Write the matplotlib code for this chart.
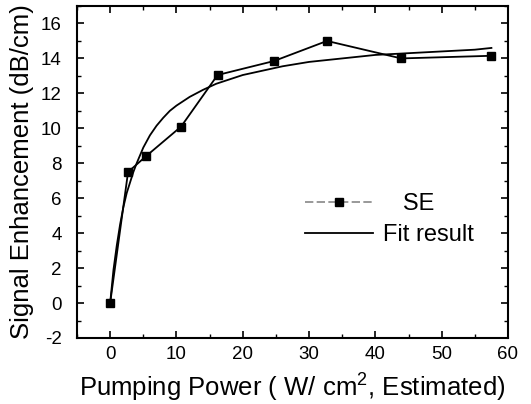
import matplotlib
matplotlib.use("Agg")
import matplotlib.pyplot as plt
from matplotlib.lines import Line2D
from matplotlib.ticker import MultipleLocator

plt.rcParams['font.family'] = ['Liberation Sans', 'DejaVu Sans']
plt.rcParams['mathtext.default'] = 'regular'
plt.rcParams['axes.unicode_minus'] = False

# Measured data (SE)
power = [0.0, 2.7, 5.4, 10.7, 16.2, 24.7, 32.7, 43.9, 57.4]
se = [0.0, 7.5, 8.4, 10.1, 13.05, 13.85, 15.0, 14.0, 14.15]

# Fit curve
fit_x = [0, 0.5, 1, 1.5, 2, 2.5, 3, 3.5, 4, 5, 6, 7, 8, 9, 10, 12, 14, 16, 18,
         20, 23, 26, 30, 35, 40, 45, 50, 55, 57.5]
fit_y = [0.0, 1.9, 3.3, 4.5, 5.5, 6.3, 6.9, 7.5, 8.0, 8.9, 9.6, 10.15, 10.6,
         11.0, 11.3, 11.8, 12.2, 12.55, 12.8, 13.05, 13.3, 13.55, 13.8, 14.0,
         14.2, 14.3, 14.4, 14.5, 14.6]

xticks = [0, 10, 20, 30, 40, 50, 60]
yticks = [-2, 0, 2, 4, 6, 8, 10, 12, 14, 16]

fig = plt.figure(figsize=(5.31, 4.04), dpi=100)
ax = fig.add_axes([77/531, 1-338/404, (508-77)/531, (338-6)/404])

ax.plot(power, se, color='black', lw=1.3, marker='s', ms=5.5, zorder=3)
ax.plot(fit_x, fit_y, color='black', lw=1.3, zorder=2)

ax.set_xlim(-5, 60)
ax.set_ylim(-2, 17)
ax.set_xticks(xticks)
ax.set_yticks(yticks)
ax.xaxis.set_minor_locator(MultipleLocator(5))
ax.yaxis.set_minor_locator(MultipleLocator(1))
ax.tick_params(which='both', direction='in', top=True, right=True, labelsize=13.5)
ax.tick_params(which='major', length=5, width=1.2)
ax.tick_params(which='minor', length=3, width=1.0)
ax.tick_params(axis='y', pad=11)
ax.tick_params(axis='x', pad=6)
for s in ax.spines.values():
    s.set_linewidth(1.5)

ax.set_xlabel('Pumping Power ( W/ cm$^2$, Estimated)', fontsize=18.5, labelpad=6)
ax.set_ylabel('Signal Enhancement (dB/cm)', fontsize=18.5, labelpad=5)

h_se = Line2D([], [], color='#888888', lw=1.2, ls=(0, (5, 2)), marker='s',
              mfc='black', mec='black', ms=5.5)
h_fit = Line2D([], [], color='black', lw=1.3)
leg = ax.legend([h_se, h_fit], ['   SE', 'Fit result'], frameon=False,
                fontsize=17, loc='upper left',
                bbox_to_anchor=((305-77)/431, (338-193)/332),
                handlelength=2.9, handletextpad=0.4, labelspacing=0.4,
                borderpad=0, borderaxespad=0)

fig.savefig('out.png', dpi=100)
